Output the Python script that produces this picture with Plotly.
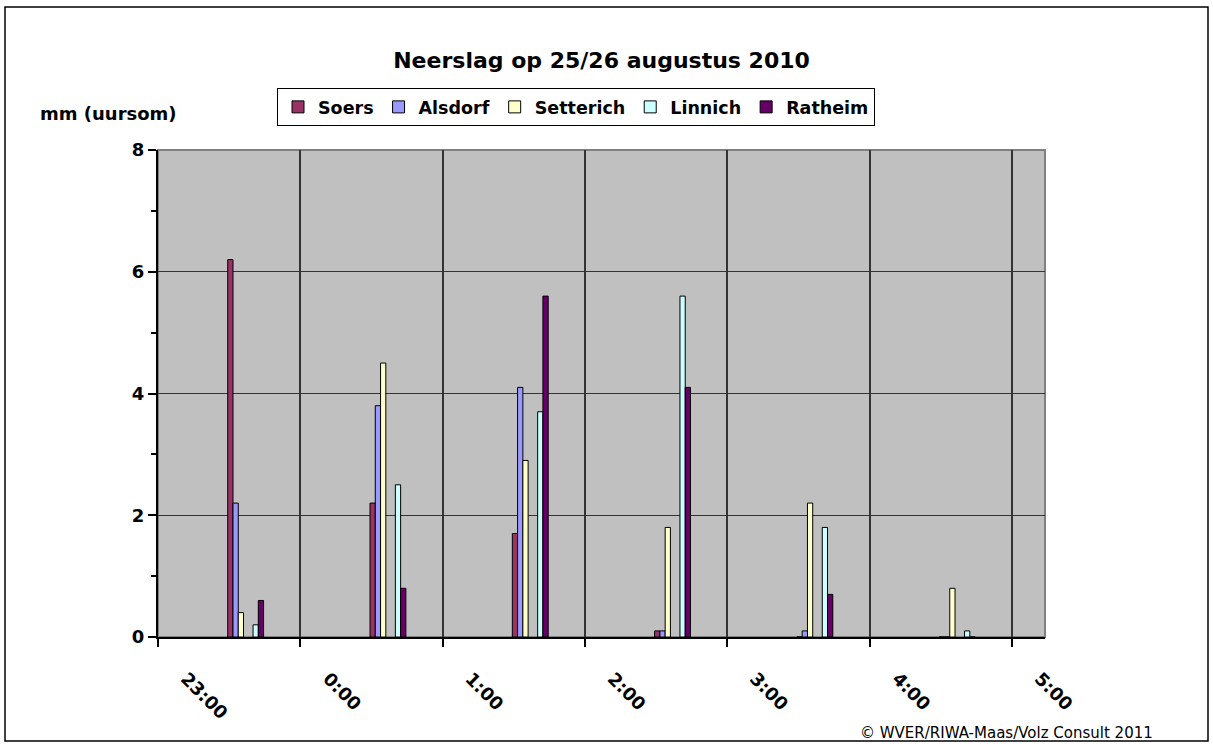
import plotly.graph_objects as go

# ---- data ----
hour_labels = ["23:00", "0:00", "1:00", "2:00", "3:00", "4:00", "5:00"]
intervals = [0, 1, 2, 3, 4, 5]  # hourly interval starting at each hour label
series_names = ["Soers", "Alsdorf", "Setterich", "Linnich", "Ratheim"]
soers = [6.2, 2.2, 1.7, 0.1, 0.0, 0.0]
alsdorf = [2.2, 3.8, 4.1, 0.1, 0.1, 0.0]
setterich = [0.4, 4.5, 2.9, 1.8, 2.2, 0.8]
linnich = [0.2, 2.5, 3.7, 5.6, 1.8, 0.1]
ratheim = [0.6, 0.8, 5.6, 4.1, 0.7, 0.0]

series_values = [soers, alsdorf, setterich, linnich, ratheim]
colors = ["#993366", "#9999FF", "#FFFFCC", "#CCFFFF", "#660066"]
offsets = [0.49, 0.527, 0.564, 0.668, 0.705]
bar_w = 0.037

W, H = 1213, 744
L, R, T, B = 158, 1045, 150, 637
pw, ph = R - L, B - T

def px(x):
    return (x - L) / pw

def py(y):
    return (B - y) / ph

FONT = "DejaVu Sans, Verdana, sans-serif"

fig = go.Figure()
for name, vals, col, off in zip(series_names, series_values, colors, offsets):
    fig.add_trace(go.Bar(
        x=intervals, y=vals, name="<b>%s</b>" % name,
        offset=off, width=bar_w,
        marker=dict(color=col, line=dict(color="black", width=1)),
    ))

fig.update_layout(
    width=W, height=H,
    margin=dict(l=L, r=W - R, t=T, b=H - B, autoexpand=False),
    paper_bgcolor="white",
    plot_bgcolor="#C0C0C0",
    barmode="overlay",
    font=dict(family=FONT, size=18, color="black"),
    title=dict(text="<b>Neerslag op 25/26 augustus 2010</b>", x=0.5, xref="paper",
               y=1 - 60 / H, yanchor="middle", font=dict(size=22)),
    legend=dict(orientation="h", x=px(277), y=py(88), xanchor="left", yanchor="top",
                bordercolor="black", borderwidth=1, bgcolor="white",
                font=dict(size=17.5, family=FONT), itemwidth=30,
                tracegroupgap=0, traceorder="normal"),
    showlegend=True,
)

fig.update_xaxes(
    range=[0, pw / 142.3], tickmode="array", tickvals=list(range(len(hour_labels))),
    ticktext=["<b>%s</b>" % t for t in hour_labels], tickangle=45,
    ticks="outside", ticklen=8, tickwidth=2, tickcolor="black",
    showline=True, linecolor="black", linewidth=2,
    showgrid=True, gridcolor="#333333", gridwidth=1.5,
    zeroline=False, ticklabelshift=28, ticklabelstandoff=14,
    tickfont=dict(size=18),
)
fig.update_yaxes(
    range=[0, 8], dtick=2, tick0=0,
    tickformat="d", ticks="outside", ticklen=8, tickwidth=2, tickcolor="black",
    showline=True, linecolor="black", linewidth=2,
    showgrid=True, gridcolor="#333333", gridwidth=1,
    zeroline=False,
    minor=dict(dtick=1, ticks="outside", ticklen=5, tickwidth=2, tickcolor="black", showgrid=False),
    tickprefix="<b>", ticksuffix="</b>",
    tickfont=dict(size=18),
)

# plot area border (grey)
fig.add_shape(type="rect", xref="paper", yref="paper", x0=0, y0=0, x1=1, y1=1,
              line=dict(color="#808080", width=2), layer="below", fillcolor="rgba(0,0,0,0)")
# chart outer border
fig.add_shape(type="rect", xref="paper", yref="paper",
              x0=px(5), y0=py(741), x1=px(1208), y1=py(7),
              line=dict(color="black", width=1.5))

fig.add_annotation(text="<b>mm (uursom)</b>", xref="paper", yref="paper",
                   x=px(108), y=py(113), xanchor="center", yanchor="middle",
                   showarrow=False, font=dict(size=18))
fig.add_annotation(text="© WVER/RIWA-Maas/Volz Consult 2011", xref="paper", yref="paper",
                   x=px(1155), y=py(733), xanchor="right", yanchor="middle",
                   showarrow=False, font=dict(size=15))

fig.write_html("out.html", config={"displayModeBar": False},
               post_script="document.body.style.margin='0';")
